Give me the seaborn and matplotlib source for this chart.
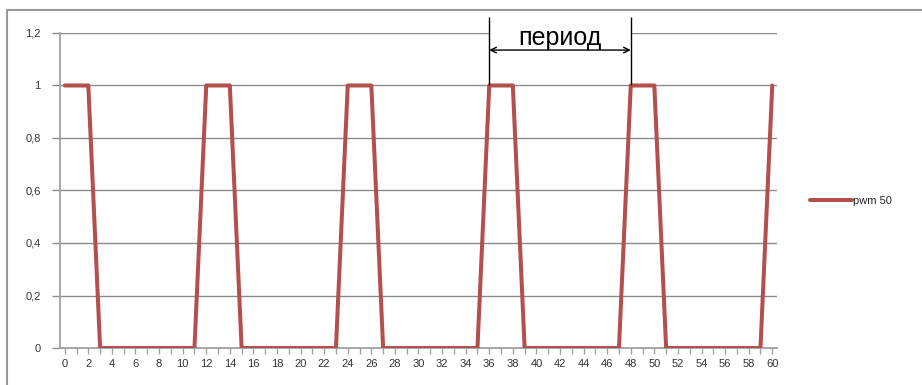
import matplotlib
matplotlib.use('Agg')
import matplotlib.pyplot as plt
import seaborn as sns
import pandas as pd
from matplotlib.lines import Line2D
from matplotlib.patches import Rectangle
from matplotlib.ticker import FuncFormatter, MultipleLocator

# pwm signal, one sample per step
steps = list(range(61))
pwm = [1, 1, 1, 0, 0, 0, 0, 0, 0, 0, 0, 0,
       1, 1, 1, 0, 0, 0, 0, 0, 0, 0, 0, 0,
       1, 1, 1, 0, 0, 0, 0, 0, 0, 0, 0, 0,
       1, 1, 1, 0, 0, 0, 0, 0, 0, 0, 0, 0,
       1, 1, 1, 0, 0, 0, 0, 0, 0, 0, 0, 0,
       1]
series_name = 'pwm 50'
period_start, period_end = 36, 48

df = pd.DataFrame({'step': steps, 'value': pwm})

sns.set_style('white')
plt.rcParams['font.family'] = ['Liberation Sans', 'DejaVu Sans']

fig = plt.figure(figsize=(9.22, 3.85), dpi=100)
ax = fig.add_axes([0.0651, 0.0961, 0.7776, 0.8182])

sns.lineplot(data=df, x='step', y='value', ax=ax, color='#B3504E',
             linewidth=2.9, label=series_name, zorder=4)

ax.set_xlim(-0.4, 60.4)
ax.set_ylim(0, 1.2)
ax.xaxis.set_major_locator(MultipleLocator(2))
ax.xaxis.set_minor_locator(MultipleLocator(1))
ax.yaxis.set_major_locator(MultipleLocator(0.2))
ax.yaxis.set_major_formatter(FuncFormatter(lambda v, p: ('%g' % round(v, 2)).replace('.', ',')))
ax.set_xlabel('')
ax.set_ylabel('')

ax.grid(axis='y', color='#8a8a8a', linewidth=1)
ax.set_axisbelow(True)
for s in ['top', 'right']:
    ax.spines[s].set_visible(False)
for s in ['left', 'bottom']:
    ax.spines[s].set_color('#a0a0a0')
    ax.spines[s].set_linewidth(1.3)
ax.tick_params(axis='x', which='both', bottom=True, length=4, width=1,
               color='#a0a0a0', labelsize=8, labelcolor='#333333', pad=4)
ax.tick_params(axis='y', left=True, length=6, width=1, color='#8a8a8a',
               labelsize=8, labelcolor='#333333', pad=8)

# period bracket
ax.add_patch(Rectangle((period_start, 1.17), period_end - period_start, 0.06,
                       facecolor='white', edgecolor='none', zorder=2))
ax.vlines([period_start, period_end], 1.0, 1.26, color='black', linewidth=1,
          clip_on=False, zorder=5)
ax.annotate('', xy=(period_start, 1.135), xytext=(period_end, 1.135),
            arrowprops=dict(arrowstyle='<->', color='black', lw=1,
                            shrinkA=0, shrinkB=0), zorder=5)
ax.text((period_start + period_end) / 2, 1.18, 'период', ha='center',
        va='center', fontsize=18, color='black', zorder=6)

ax.legend(loc='center left', bbox_to_anchor=(1.046, 0.467), frameon=False,
          fontsize=8, handlelength=3.8, handletextpad=0.1, borderpad=0,
          borderaxespad=0)

# chart border (top and left edge visible)
fig.add_artist(Line2D([7 / 922, 1], [1 - 10 / 385, 1 - 10 / 385],
                      color='#999999', linewidth=1.5))
fig.add_artist(Line2D([7 / 922, 7 / 922], [0, 1 - 10 / 385],
                      color='#999999', linewidth=1.5))

fig.savefig('out.png', dpi=100)
